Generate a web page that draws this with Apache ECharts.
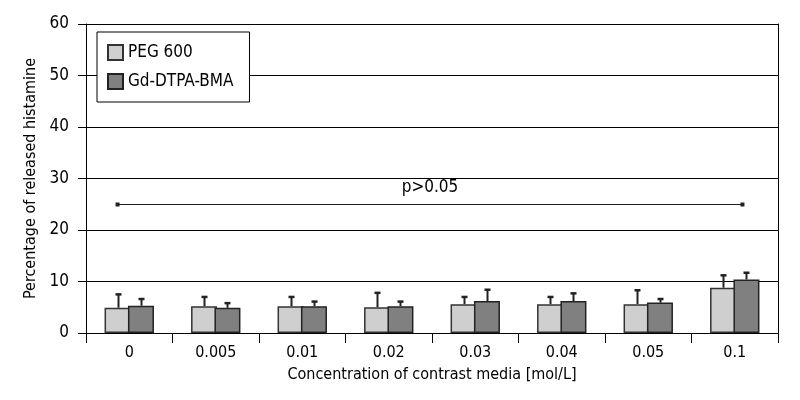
<!DOCTYPE html>
<html>
<head>
<meta charset="utf-8">
<script src="https://cdn.jsdelivr.net/npm/echarts@6/dist/echarts.min.js"></script>
<style>html,body{margin:0;padding:0;background:#fff}#c{width:800px;height:400px}</style>
</head>
<body>
<div id="c"></div>
<script>
var categories = ['0', '0.005', '0.01', '0.02', '0.03', '0.04', '0.05', '0.1'];
var pegMean = [4.9, 5.2, 5.2, 5.0, 5.6, 5.6, 5.6, 8.8];
var pegSD   = [2.6, 1.8, 1.8, 2.8, 1.4, 1.4, 2.7, 2.4];
var gdMean  = [5.3, 4.9, 5.2, 5.2, 6.2, 6.2, 5.9, 10.4];
var gdSD    = [1.3, 0.9, 0.9, 0.9, 2.2, 1.5, 0.7, 1.3];
var yTicks  = [0, 10, 20, 30, 40, 50, 60];
var sigFrom = '0', sigTo = '0.1', sigY = 25, sigText = 'p>0.05';

var FONT = '"Liberation Sans Narrow", "DejaVu Sans Condensed", "Roboto", sans-serif';
var BW = 26;
var GAP = -0.1;
var OFF = BW * (1 + GAP) / 2;

function errRender(offsetSign, means, sds) {
  return function (params, api) {
    var i = api.value(0);
    var base = api.coord([i, means[i]]);
    var top = api.coord([i, means[i] + sds[i]]);
    var x = Math.round(base[0] + offsetSign * OFF) + 0.5;
    return {
      type: 'group',
      children: [
        {type: 'line', shape: {x1: x, y1: base[1], x2: x, y2: top[1]}, style: {stroke: '#222', lineWidth: 2}},
        {type: 'line', shape: {x1: x - 3, y1: top[1], x2: x + 3, y2: top[1]}, style: {stroke: '#222', lineWidth: 2.5}}
      ]
    };
  };
}

var chart = echarts.init(document.getElementById('c'));
chart.setOption({
  animation: false,
  textStyle: {fontFamily: FONT},
  grid: {left: 86, right: 22, top: 24, bottom: 67},
  legend: {
    data: ['PEG 600', 'Gd-DTPA-BMA'],
    orient: 'vertical', left: 97, top: 32,
    icon: 'rect',
    backgroundColor: '#fff', borderColor: '#000', borderWidth: 1, borderRadius: 0,
    padding: [12, 16, 12, 10], itemGap: 12,
    itemWidth: 15, itemHeight: 15,
    textStyle: {fontFamily: FONT, fontSize: 17, color: '#000'}
  },
  xAxis: {
    type: 'category', data: categories,
    name: 'Concentration of contrast media [mol/L]', nameLocation: 'middle', nameGap: 34,
    nameTextStyle: {fontFamily: FONT, fontSize: 16, color: '#000'},
    axisLine: {lineStyle: {color: '#000', width: 1}},
    axisTick: {show: true, length: 10, lineStyle: {color: '#000'}},
    axisLabel: {fontFamily: FONT, fontSize: 16, color: '#000', margin: 12}
  },
  yAxis: [{
    type: 'value', min: yTicks[0], max: yTicks[yTicks.length - 1], interval: 10,
    name: 'Percentage of released histamine', nameLocation: 'middle', nameGap: 32,
    nameTextStyle: {fontFamily: FONT, fontSize: 16, color: '#000'},
    axisLine: {show: true, lineStyle: {color: '#000'}},
    axisTick: {show: true, length: 8, lineStyle: {color: '#000'}},
    axisLabel: {fontFamily: FONT, fontSize: 17, color: '#000', margin: 17},
    splitLine: {show: true, lineStyle: {color: '#000', width: 1}}
  }, {
    type: 'value', min: 0, max: 60, interval: 10, position: 'right',
    axisLine: {show: true, lineStyle: {color: '#000'}},
    axisTick: {show: false}, axisLabel: {show: false}, splitLine: {show: false}
  }],
  series: [
    {name: 'PEG 600', type: 'bar', data: pegMean, barWidth: BW, barGap: (GAP * 100) + '%',
     itemStyle: {color: '#cfcfcf', borderColor: '#333', borderWidth: 1.5}},
    {name: 'Gd-DTPA-BMA', type: 'bar', data: gdMean, barWidth: BW, barGap: (GAP * 100) + '%',
     itemStyle: {color: '#808080', borderColor: '#222', borderWidth: 1.5}},
    {type: 'custom', data: categories.map(function (c, i) { return [i]; }),
     renderItem: errRender(-1, pegMean, pegSD), z: 1},
    {type: 'custom', data: categories.map(function (c, i) { return [i]; }),
     renderItem: errRender(1, gdMean, gdSD), z: 1},
    {type: 'custom', data: [[categories.indexOf(sigFrom), categories.indexOf(sigTo), sigY]],
     renderItem: function (params, api) {
       var a = api.coord([api.value(0), api.value(2)]);
       var b = api.coord([api.value(1), api.value(2)]);
       var x1 = a[0] - OFF, x2 = b[0] + OFF - 4, y = Math.round(a[1]) + 0.5;
       return {type: 'group', children: [
         {type: 'line', shape: {x1: x1, y1: y, x2: x2, y2: y}, style: {stroke: '#222', lineWidth: 1}},
         {type: 'rect', shape: {x: x1 - 2, y: y - 2, width: 4, height: 4}, style: {fill: '#222'}},
         {type: 'rect', shape: {x: x2 - 2, y: y - 2, width: 4, height: 4}, style: {fill: '#222'}},
         {type: 'text', style: {text: sigText, x: (x1 + x2) / 2, y: y - 8, align: 'center', verticalAlign: 'bottom',
           font: '17px ' + FONT, fill: '#000'}}
       ]};
     }}
  ]
});
</script>
</body>
</html>
